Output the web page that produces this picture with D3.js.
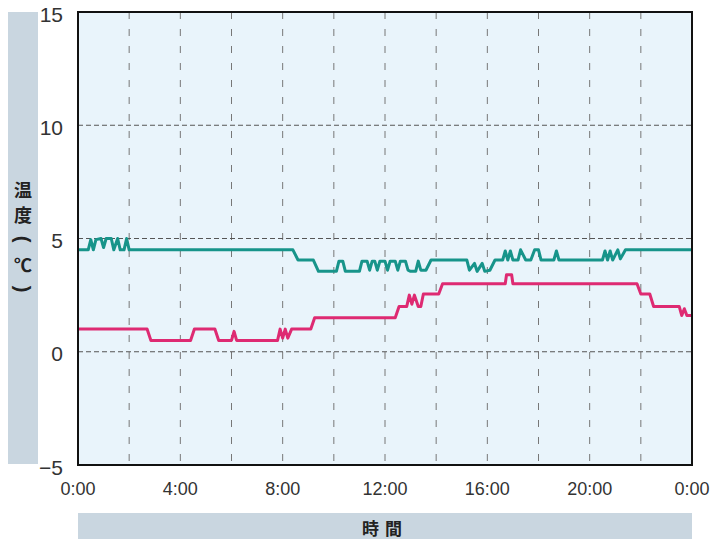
<!DOCTYPE html>
<html>
<head>
<meta charset="utf-8">
<script src="https://cdn.jsdelivr.net/npm/d3@7"></script>
<style>
  body { margin: 0; background: #fff; }
  svg { display: block; }
</style>
</head>
<body>
<div id="chart"></div>
<script>
// hours of the day, values in degrees C
const tealHours = [0, 0.4, 0.5, 0.6, 0.7, 0.9, 1.0, 1.1, 1.3, 1.4, 1.55, 1.65, 1.8, 1.9, 2.0,
  8.4, 8.6, 9.2, 9.4, 10.1, 10.2, 10.35, 10.45, 11.0, 11.1, 11.3, 11.4, 11.5, 11.6, 11.7, 11.8,
  12.0, 12.1, 12.2, 12.4, 12.5, 12.6, 12.8, 12.9, 13.0, 13.2, 13.3, 13.4, 13.6, 13.8,
  15.2, 15.3, 15.5, 15.6, 15.8, 15.9, 16.1, 16.3, 16.6, 16.7, 16.8, 16.9, 17.0, 17.2, 17.3, 17.5,
  17.7, 17.85, 18.0, 18.1, 18.6, 18.7, 18.8, 20.5, 20.6, 20.7, 20.8, 20.9, 21.1, 21.2, 21.4, 21.6, 24]
const tealTemps = [4.5, 4.5, 4.95, 4.5, 4.95, 5.0, 4.6, 5.0, 5.0, 4.5, 5.0, 4.5, 4.5, 5.0, 4.5,
  4.5, 4.05, 4.05, 3.55, 3.55, 4.0, 4.0, 3.55, 3.55, 4.0, 4.0, 3.6, 4.0, 4.0, 3.6, 4.0,
  4.0, 3.6, 4.0, 4.0, 3.6, 4.0, 4.0, 3.6, 3.55, 3.55, 4.0, 3.6, 3.6, 4.05,
  4.05, 3.6, 3.9, 3.55, 3.9, 3.55, 3.6, 4.05, 4.05, 4.45, 4.05, 4.45, 4.05, 4.05, 4.5, 4.05,
  4.05, 4.5, 4.5, 4.05, 4.05, 4.45, 4.05, 4.05, 4.45, 4.05, 4.45, 4.05, 4.5, 4.1, 4.5, 4.5, 4.5]

const pinkHours = [0, 2.7, 2.85, 4.4, 4.55, 5.35, 5.5, 6.0, 6.1, 6.2, 7.8, 7.9, 8.0, 8.1, 8.2, 8.35,
  9.1, 9.25, 12.4, 12.55, 12.85, 12.95, 13.05, 13.15, 13.3, 13.4, 13.5, 14.1, 14.25,
  16.7, 16.75, 16.95, 17.0, 21.85, 22.0, 22.35, 22.5, 23.5, 23.6, 23.7, 23.8, 24]
const pinkTemps = [1.0, 1.0, 0.5, 0.5, 1.0, 1.0, 0.5, 0.5, 0.9, 0.5, 0.5, 1.0, 0.6, 1.0, 0.6, 1.0,
  1.0, 1.5, 1.5, 2.0, 2.0, 2.5, 2.1, 2.5, 2.0, 2.0, 2.55, 2.55, 3.0,
  3.0, 3.4, 3.4, 3.0, 3.0, 2.55, 2.55, 2.0, 2.0, 1.6, 1.9, 1.6, 1.6]

const yTicks = [-5, 0, 5, 10, 15]
const xTicks = [0, 4, 8, 12, 16, 20, 24]
const xGrid = [2, 4, 6, 8, 10, 12, 14, 16, 18, 20, 22]
const yGrid = [0, 5, 10]

const width = 711
const height = 539
const margin = {top: 12, right: 19, bottom: 74, left: 78}

const svg = d3.select('#chart')
  .append('svg')
  .attr('width', width)
  .attr('height', height)

const x = d3.scaleLinear()
  .domain([0, 24])
  .range([margin.left, width - margin.right])
const y = d3.scaleLinear()
  .domain([-5, 15])
  .range([height - margin.bottom, margin.top])

// side bands
svg.append('rect')
  .attr('x', 8).attr('y', 12)
  .attr('width', 30).attr('height', 452)
  .attr('fill', '#c9d6e0')
svg.append('rect')
  .attr('x', margin.left).attr('y', 513)
  .attr('width', width - margin.right - margin.left).attr('height', 26)
  .attr('fill', '#c9d6e0')

// vertical title; the brackets are turned a quarter so they read top to bottom
const yTitle = ['温', '度', '(', '℃', ')']
svg.append('g')
  .selectAll('text')
  .data(yTitle)
  .join('text')
    .attr('x', 23)
    .attr('y', (d, i) => 189 + i * 25)
    .attr('text-anchor', 'middle')
    .attr('dominant-baseline', 'central')
    .attr('font-family', d => (d === '(' || d === ')') ? '"Liberation Sans", sans-serif' : '"Noto Sans CJK JP", sans-serif')
    .attr('font-weight', 'bold')
    .attr('font-size', d => (d === '(' || d === ')') ? 20 : 18)
    .attr('fill', '#222')
    .attr('transform', (d, i) => (d === '(' || d === ')') ? `rotate(90, 23, ${189 + i * 25})` : null)
    .text(d => d)

svg.append('text')
  .attr('x', (margin.left + width - margin.right) / 2)
  .attr('y', 527)
  .attr('text-anchor', 'middle')
  .attr('dominant-baseline', 'central')
  .attr('font-family', '"Noto Sans CJK JP", sans-serif')
  .attr('font-weight', 'bold')
  .attr('font-size', 17)
  .attr('letter-spacing', 6)
  .attr('fill', '#222')
  .text('時間')

// plot background
svg.append('rect')
  .attr('x', x(0)).attr('y', y(15))
  .attr('width', x(24) - x(0)).attr('height', y(-5) - y(15))
  .attr('fill', '#e9f4fb')

svg.append('g')
  .selectAll('line')
  .data(xGrid)
  .join('line')
    .attr('x1', d => x(d)).attr('x2', d => x(d))
    .attr('y1', y(15)).attr('y2', y(-5))
    .attr('stroke', '#777')
    .attr('stroke-width', 1)
    .attr('stroke-dasharray', '7,10')

svg.append('g')
  .selectAll('line')
  .data(yGrid)
  .join('line')
    .attr('x1', x(0)).attr('x2', x(24))
    .attr('y1', d => y(d)).attr('y2', d => y(d))
    .attr('stroke', '#555')
    .attr('stroke-width', 1)
    .attr('stroke-dasharray', '5,3')

const line = d3.line()
  .x(d => x(d[0]))
  .y(d => y(d[1]))

const series = [
  {hours: tealHours, temps: tealTemps, color: '#17948a'},
  {hours: pinkHours, temps: pinkTemps, color: '#de2a72'}
]
series.forEach(s => {
  svg.append('path')
    .datum(s.hours.map((h, i) => [h, s.temps[i]]))
    .attr('fill', 'none')
    .attr('stroke', s.color)
    .attr('stroke-width', 3)
    .attr('stroke-linejoin', 'round')
    .attr('d', line)
})

// frame
svg.append('rect')
  .attr('x', x(0)).attr('y', y(15))
  .attr('width', x(24) - x(0)).attr('height', y(-5) - y(15))
  .attr('fill', 'none')
  .attr('stroke', '#111')
  .attr('stroke-width', 2)

const tickFont = '"Liberation Sans", Arial, sans-serif'
svg.append('g')
  .selectAll('text')
  .data(yTicks)
  .join('text')
    .attr('x', 63)
    .attr('y', d => y(d) + 2)
    .attr('text-anchor', 'end')
    .attr('dominant-baseline', 'central')
    .attr('font-family', tickFont)
    .attr('font-size', 21)
    .attr('fill', '#333')
    .text(d => d < 0 ? '−' + Math.abs(d) : d)

svg.append('g')
  .selectAll('text')
  .data(xTicks)
  .join('text')
    .attr('x', d => x(d))
    .attr('y', 489)
    .attr('text-anchor', 'middle')
    .attr('dominant-baseline', 'central')
    .attr('font-family', tickFont)
    .attr('font-size', 18)
    .attr('fill', '#333')
    .text(d => (d % 24) + ':00')
</script>
</body>
</html>
